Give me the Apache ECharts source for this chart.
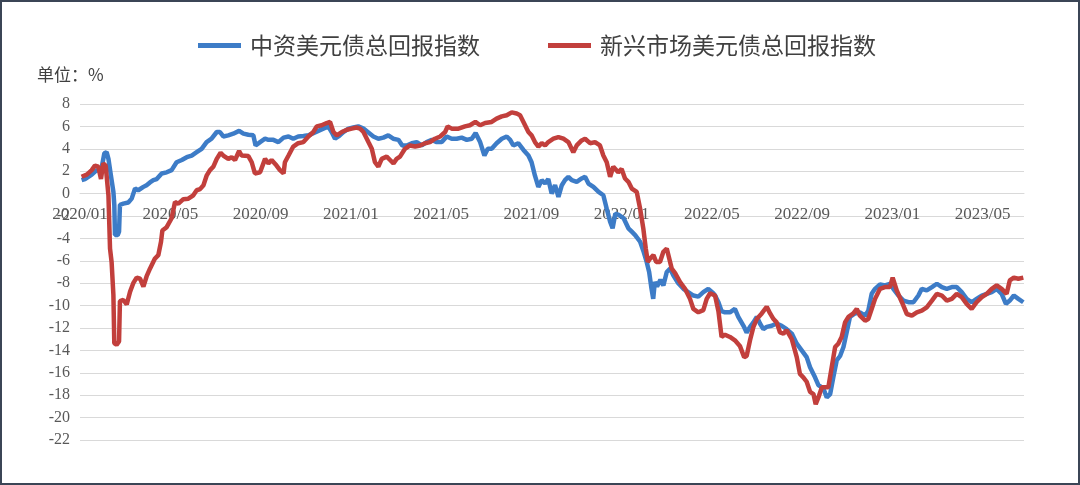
<!DOCTYPE html>
<html>
<head>
<meta charset="utf-8">
<style type="text/css">
html, body { margin: 0; padding: 0; background: #fff; }
.chart { width: 1080px; height: 485px; }
</style>
<script type="text/javascript" src="https://cdn.jsdelivr.net/npm/echarts@6.0.0/dist/echarts.min.js"></script>
</head>
<body>
<div class="chart" id="main"></div>
<script type="text/javascript">
// x values are months since 2020/01
var blueT = [0.07, 0.22, 0.52, 0.74, 0.93, 1.08, 1.18, 1.26, 1.37, 1.48, 1.52, 1.55, 1.67, 1.73, 1.77, 1.92,
	2.14, 2.29, 2.44, 2.58, 2.81, 2.95, 3.10, 3.25, 3.40, 3.62, 3.84, 4.06, 4.28, 4.51, 4.73, 4.95,
	5.17, 5.39, 5.61, 5.83, 6.06, 6.20, 6.35, 6.57, 6.79, 7.05, 7.24, 7.46, 7.68, 7.78, 7.98,
	8.20, 8.35, 8.57, 8.79, 9.02, 9.24, 9.45, 9.67, 9.90, 10.12, 10.34, 10.56, 10.78, 11.00, 11.15,
	11.30, 11.45, 11.67, 11.90, 12.11, 12.33, 12.56, 12.78, 13.00, 13.22, 13.44, 13.66, 13.88, 14.11,
	14.28, 14.48, 14.70, 14.92, 15.14, 15.36, 15.59, 15.81, 16.03, 16.25, 16.47, 16.69, 16.91, 17.14,
	17.36, 17.53, 17.73, 17.92, 18.07, 18.24, 18.46, 18.69, 18.91, 19.06, 19.20, 19.42, 19.65,
	19.87, 20.01, 20.16, 20.31, 20.46, 20.61, 20.75, 20.90, 21.05, 21.20, 21.35, 21.49, 21.64, 21.79,
	22.01, 22.23, 22.38, 22.53, 22.75, 22.98, 23.19, 23.34, 23.49, 23.60, 23.72, 23.87, 24.09, 24.30,
	24.45, 24.60, 24.82, 24.96, 25.11, 25.22, 25.31, 25.40, 25.47, 25.57, 25.72, 25.85, 26.00, 26.15,
	26.29, 26.51, 26.74, 26.95, 27.18, 27.40, 27.62, 27.84, 28.06,
	28.14, 28.29, 28.43, 28.58, 28.80, 29.02, 29.17, 29.40, 29.54, 29.69, 29.84, 29.99, 30.13, 30.28,
	30.43, 30.65, 30.87, 31.09, 31.31, 31.54, 31.76, 31.98, 32.20, 32.35, 32.57, 32.72, 32.94, 33.09,
	33.24, 33.38, 33.53, 33.68, 33.83, 33.97, 34.12, 34.34,
	34.56, 34.79, 34.93, 35.08, 35.23, 35.45, 35.67, 35.89, 36.04, 36.27, 36.49, 36.71, 36.93, 37.15,
	37.30, 37.52, 37.75, 37.97, 38.19, 38.41, 38.63, 38.85, 39.07, 39.29, 39.51, 39.73, 39.96, 40.18,
	40.40, 40.62, 40.84, 41.03, 41.20, 41.38, 41.58, 41.80];
var blueV = [1.2, 1.3, 1.7, 2.1, 2.0, 3.6, 3.7, 3.1, 1.6, 0.15, -1.0, -3.7, -3.7, -3.4, -1.0, -0.9,
	-0.8, -0.45, 0.45, 0.3, 0.6, 0.75, 1.0, 1.2, 1.3, 1.8, 1.9, 2.1, 2.8, 3.0, 3.25, 3.4,
	3.7, 4.0, 4.6, 4.9, 5.5, 5.5, 5.1, 5.2, 5.35, 5.6, 5.35, 5.25, 5.2, 4.3, 4.6,
	4.9, 4.8, 4.8, 4.6, 5.0, 5.1, 4.9, 5.1, 5.15, 5.2, 5.4, 5.6, 5.8, 6.0, 5.5,
	4.9, 5.1, 5.5, 5.8, 5.9, 6.0, 5.8, 5.45, 5.1, 4.9, 5.0, 5.2, 4.9, 4.8,
	4.3, 4.3, 4.5, 4.6, 4.3, 4.6, 4.8, 4.6, 4.6, 5.1, 4.9, 4.9, 5.0, 4.8,
	4.9, 5.4, 4.6, 3.4, 4.0, 4.0, 4.5, 4.9, 5.1, 4.8, 4.3, 4.5, 3.9,
	3.4, 2.8, 1.6, 0.6, 1.2, 0.9, 1.3, 0.0, 0.75, -0.3, 0.75, 1.2, 1.5, 1.2,
	1.05, 1.35, 1.5, 0.9, 0.6, 0.15, -0.15, -1.35, -2.5, -3.1, -1.8, -1.9, -2.2, -3.1,
	-3.4, -3.7, -4.3, -5.1, -6.1, -7.0, -8.3, -9.4, -7.9, -8.3, -7.7, -8.2, -7.0, -6.7,
	-7.3, -8.0, -8.5, -8.8, -9.1, -9.2, -8.8, -8.5, -8.9,
	-9.1, -9.7, -10.5, -10.6, -10.6, -10.3, -11.0, -11.8, -12.4, -11.9, -11.5, -11.0, -11.6, -12.1,
	-11.9, -11.8, -11.6, -11.8, -12.1, -12.5, -13.4, -14.0, -14.6, -15.5, -16.4, -17.1, -17.4, -18.2,
	-17.9, -16.4, -14.9, -14.5, -13.7, -12.4, -11.0, -10.7,
	-10.6, -10.9, -10.45, -8.95, -8.5, -8.1, -8.2, -8.05, -8.5, -9.1, -9.55, -9.7, -9.7, -9.1,
	-8.5, -8.65, -8.35, -8.05, -8.35, -8.5, -8.35, -8.35, -8.8, -9.4, -9.7, -9.4, -9.1, -8.95,
	-8.8, -8.5, -8.95, -9.85, -9.55, -9.1, -9.4, -9.7];

var redT = [0.07, 0.30, 0.52, 0.66, 0.81, 0.93, 1.03, 1.14, 1.18, 1.26, 1.33, 1.40, 1.48, 1.52, 1.62, 1.73,
	1.77, 1.92, 2.07, 2.22, 2.36, 2.51, 2.66, 2.81, 2.95, 3.10, 3.32, 3.47, 3.59, 3.65, 3.84, 4.06,
	4.21, 4.36, 4.58, 4.80, 5.02, 5.17, 5.32, 5.47, 5.61, 5.76, 5.91, 6.06, 6.23, 6.35, 6.57, 6.72,
	6.87, 7.05, 7.16, 7.46, 7.61, 7.75, 7.98,
	8.20, 8.35, 8.49, 8.71, 8.86, 9.02, 9.08, 9.24, 9.45, 9.67, 9.90, 10.12, 10.34, 10.49, 10.71,
	10.93, 11.08, 11.23, 11.38, 11.60, 11.83, 12.04, 12.26, 12.41, 12.56, 12.78, 12.93, 13.07, 13.22,
	13.37, 13.59, 13.74, 13.89, 14.03, 14.18, 14.40, 14.62, 14.85, 15.07, 15.29, 15.51, 15.73, 15.96,
	16.18, 16.29, 16.47, 16.77, 17.06, 17.28, 17.52, 17.73, 17.95, 18.24, 18.46, 18.69, 18.91, 19.13,
	19.35, 19.50, 19.65,
	19.87, 20.01, 20.16, 20.31, 20.46, 20.61, 20.75, 20.98, 21.20, 21.42, 21.64, 21.86, 22.01, 22.23,
	22.38, 22.60, 22.82, 23.04, 23.19, 23.34, 23.49, 23.63, 23.85, 24.00, 24.15, 24.30, 24.45, 24.67,
	24.82, 24.96, 25.07, 25.16, 25.26, 25.41, 25.53, 25.70, 25.85, 26.00, 26.11, 26.22, 26.37, 26.59,
	26.81, 27.03, 27.18, 27.40, 27.62, 27.77, 27.92,
	28.14, 28.29, 28.43, 28.58, 28.80, 29.02, 29.24, 29.43, 29.54, 29.69, 29.84, 29.99, 30.21, 30.43,
	30.58, 30.73, 30.87, 31.02, 31.17, 31.31, 31.54, 31.76, 31.90, 32.05, 32.20, 32.35, 32.50, 32.60,
	32.72, 32.87, 33.01, 33.16, 33.31, 33.46, 33.60, 33.75, 33.90, 34.05, 34.27, 34.42,
	34.56, 34.79, 34.93, 35.08, 35.23, 35.45, 35.67, 35.89, 36.01, 36.19, 36.42, 36.64, 36.86, 37.08,
	37.30, 37.52, 37.75, 37.97, 38.19, 38.41, 38.63, 38.85, 39.07, 39.29, 39.51, 39.73, 39.96, 40.18,
	40.40, 40.62, 40.84, 41.06, 41.20, 41.38, 41.58, 41.80];
var redV = [1.5, 1.7, 2.1, 2.5, 2.4, 1.3, 2.7, 2.5, 1.6, -0.15, -4.9, -6.1, -9.05, -13.35, -13.5, -13.2,
	-9.6, -9.5, -9.9, -8.75, -8.0, -7.5, -7.6, -8.3, -7.4, -6.7, -5.8, -5.5, -4.3, -3.3, -3.0, -2.2,
	-0.75, -0.9, -0.5, -0.45, -0.15, 0.3, 0.4, 0.75, 1.6, 2.1, 2.4, 3.1, 3.65, 3.4, 3.1, 3.25,
	3.0, 3.8, 3.4, 3.35, 2.8, 1.8, 1.9,
	3.1, 2.7, 3.0, 2.5, 2.1, 1.8, 2.8, 3.4, 4.2, 4.5, 4.6, 5.1, 5.5, 6.0, 6.1,
	6.3, 6.4, 5.5, 5.2, 5.5, 5.7, 5.8, 5.9, 5.8, 5.5, 4.6, 4.0, 2.8, 2.4,
	3.1, 3.3, 3.0, 2.7, 3.1, 3.3, 4.0, 4.3, 4.2, 4.3, 4.5, 4.6, 4.9, 5.1,
	5.5, 6.0, 5.8, 5.8, 6.0, 6.1, 6.4, 6.1, 6.3, 6.4, 6.7, 6.9, 7.0, 7.25,
	7.15, 7.0, 6.4,
	5.5, 5.2, 4.6, 4.2, 4.5, 4.3, 4.6, 4.9, 5.05, 4.9, 4.6, 3.7, 4.3, 4.75,
	4.9, 4.5, 4.6, 4.3, 3.4, 2.8, 1.5, 2.4, 1.9, 2.2, 1.35, 1.05, 0.45, 0.15,
	-1.35, -3.1, -4.9, -6.1, -5.8, -5.5, -6.1, -6.1, -5.2, -4.9, -5.8, -6.7, -7.1, -7.9,
	-8.5, -9.4, -10.3, -10.6, -10.4, -9.4, -8.9,
	-9.1, -10.5, -12.8, -12.6, -12.8, -13.1, -13.6, -14.6, -14.5, -13.1, -11.9, -11.2, -10.7, -10.1,
	-10.7, -11.2, -11.5, -12.4, -12.5, -12.2, -13.0, -14.6, -16.1, -16.4, -16.8, -17.7, -17.9, -18.8,
	-18.2, -17.3, -17.3, -17.3, -15.5, -13.7, -13.4, -12.8, -11.5, -11.0, -10.7, -10.3,
	-10.9, -11.35, -11.2, -10.3, -9.4, -8.5, -8.35, -8.35, -7.5, -8.65, -9.7, -10.75, -10.9, -10.6,
	-10.45, -10.15, -9.55, -8.95, -9.1, -9.55, -9.4, -8.95, -9.25, -9.85, -10.3, -9.7, -9.25, -8.95,
	-8.5, -8.2, -8.5, -8.95, -7.75, -7.5, -7.6, -7.5];

var seriesNames = ['中资美元债总回报指数', '新兴市场美元债总回报指数'];
var seriesColors = ['#3d7cc7', '#c23f3c'];
var unitText = '单位：%';
var yMin = -22, yMax = 8;

function pairs(t, v) {
	var out = [];
	for (var i = 0; i < t.length; i++) out.push([t[i], v[i]]);
	return out;
}

function monthLabel(v) {
	if (v % 4 !== 0) return '';
	var y = 2020 + Math.floor(v / 12), m = v % 12 + 1;
	return y + '/' + (m < 10 ? '0' + m : m);
}

var grid = { left: 80, right: 56, top: 104, bottom: 45 };
// the date axis sits on the zero line, as in the source chart
var plotH = 485 - grid.top - grid.bottom;
var zeroOffset = -plotH * (0 - yMin) / (yMax - yMin);

var chart = echarts.init(document.getElementById('main'));
chart.setOption({
	animation: false,
	color: seriesColors,
	title: {
		text: unitText,
		left: 32,
		top: 61,
		textStyle: { fontFamily: 'Noto Sans CJK SC', fontSize: 17, fontWeight: 'normal', color: '#404040' }
	},
	legend: {
		left: 193,
		top: 29,
		itemWidth: 43,
		itemHeight: 5,
		itemGap: 68,
		icon: 'rect',
		textStyle: { fontFamily: 'Noto Sans CJK SC', fontSize: 23, color: '#404040', padding: [0, 0, 0, 4] },
		data: seriesNames
	},
	grid: grid,
	xAxis: {
		type: 'value',
		min: 0,
		max: 41.83,
		interval: 4,
		offset: zeroOffset,
		axisLine: { onZero: false, lineStyle: { color: '#d9d9d9', width: 1 } },
		axisTick: { show: false },
		splitLine: { show: false },
		axisLabel: {
			margin: 12,
			showMaxLabel: false,
			fontFamily: 'Liberation Serif',
			fontSize: 17,
			color: '#595959',
			formatter: monthLabel
		}
	},
	yAxis: {
		type: 'value',
		min: yMin,
		max: yMax,
		interval: 2,
		axisLine: { show: false },
		axisTick: { show: false },
		splitLine: { lineStyle: { color: '#d9d9d9', width: 1 } },
		axisLabel: { margin: 10, fontFamily: 'Liberation Serif', fontSize: 16, color: '#595959' }
	},
	graphic: [{
		type: 'rect',
		shape: { x: 1, y: 1, width: 1078, height: 483 },
		style: { fill: null, stroke: '#3b4556', lineWidth: 2 },
		silent: true
	}],
	series: [{
		name: seriesNames[0],
		type: 'line',
		showSymbol: false,
		data: pairs(blueT, blueV),
		lineStyle: { width: 4.5 }
	}, {
		name: seriesNames[1],
		type: 'line',
		showSymbol: false,
		data: pairs(redT, redV),
		lineStyle: { width: 4.5 }
	}]
});
</script>
</body>
</html>
